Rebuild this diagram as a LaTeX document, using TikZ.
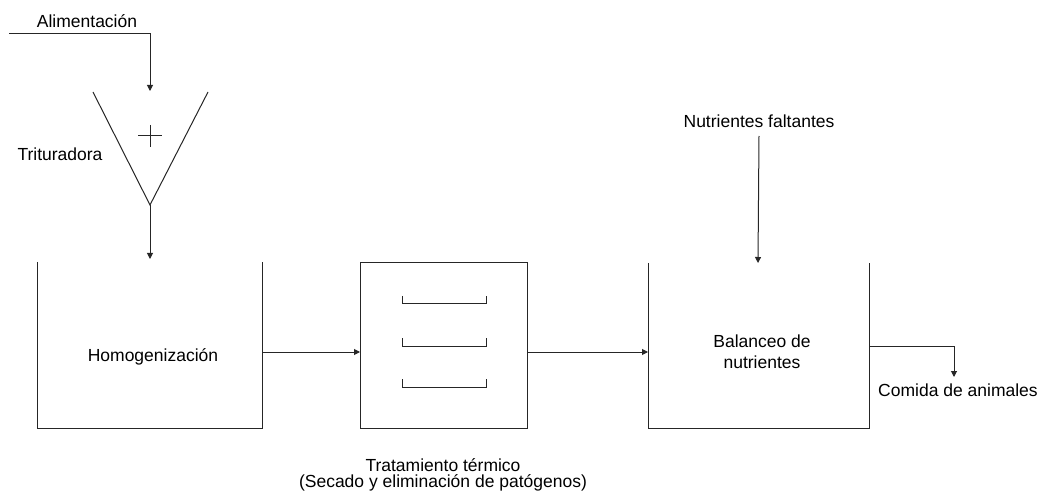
\documentclass[tikz,border=0pt]{standalone}
\usepackage{fontspec}
\setmainfont{Liberation Sans}
\usetikzlibrary{arrows.meta}
\begin{document}
\begin{tikzpicture}[x=1pt,y=-1pt,
  line/.style={line width=1pt, draw=black!85},
  flow/.style={line, -{Triangle[length=6pt,width=6pt]}},
  lbl/.style={font=\fontsize{17.5}{21}\selectfont, inner sep=0pt, anchor=base},
  ]
\useasboundingbox (0,0) rectangle (1045,497);

% ---- key points of the equipment outlines ----
\coordinate (feedIn)   at (9,34);
\coordinate (feedBend) at (150,34);
\coordinate (crushIn)  at (150,91);
\coordinate (crushL)   at (93,92);
\coordinate (crushR)   at (208,92);
\coordinate (crushOut) at (150,205);
\coordinate (homIn)    at (150,259);

\coordinate (homTL) at (37,262);
\coordinate (homBL) at (37,428);
\coordinate (homBR) at (262,428);
\coordinate (homTR) at (262,262);
\coordinate (homOut) at (262,352);

\coordinate (dryIn)  at (360,352);
\coordinate (dryOut) at (527,352);

\coordinate (balTL) at (648,263);
\coordinate (balBL) at (648,428);
\coordinate (balBR) at (869,428);
\coordinate (balTR) at (869,263);
\coordinate (balIn) at (648,352);
\coordinate (nutIn) at (758,263);
\coordinate (balOut) at (869,346);
\coordinate (foodBend) at (954,346);
\coordinate (foodEnd)  at (954,377);

% ---- labels ----
\node[lbl] (feed)  at (87,28)   {Alimentación};
\node[lbl] (crush) at (60,161)  {Trituradora};
\node[lbl] (hom)   at (153,361) {Homogenización};
\node[lbl] (nut)   at (759,128) {Nutrientes faltantes};
\node[lbl] (bal1)  at (762,347) {Balanceo de};
\node[lbl] (bal2)  at (762,368) {nutrientes};
\node[lbl] (food)  at (958,396) {Comida de animales};
\node[lbl] (trat1) at (443,471) {Tratamiento térmico};
\node[lbl] (trat2) at (443,487) {(Secado y eliminación de patógenos)};

% ---- crusher (funnel with cross) ----
\draw[line] (crushL) -- (crushOut) -- (crushR);
\draw[line] (138,136) -- (162,136) (150,125) -- (150,147);

% ---- homogenisation tank (open top) ----
\draw[line] (homTL) -- (homBL) -- (homBR) -- (homTR);

% ---- dryer with three trays ----
\node[line, draw, minimum width=167pt, minimum height=165pt, inner sep=0pt]
  (dryer) at (443.5,345.5) {};
\foreach \yy in {304,346,387}
  \draw[line] (402,\yy-8) -- (402,\yy) -- (486,\yy) -- (486,\yy-8);

% ---- nutrient balancing tank (open top) ----
\draw[line] (balTL) -- (balBL) -- (balBR) -- (balTR);

% ---- material flow ----
\draw[flow] (feedIn) -- (feedBend) -- (crushIn);
\draw[flow] (crushOut) -- (homIn);
\draw[flow] (homOut) -- (dryIn);
\draw[flow] (dryOut) -- (balIn);
\draw[flow] (nut.south |- 0,136) -- (nutIn);
\draw[flow] (balOut) -- (foodBend) -- (foodEnd);
\end{tikzpicture}
\end{document}
